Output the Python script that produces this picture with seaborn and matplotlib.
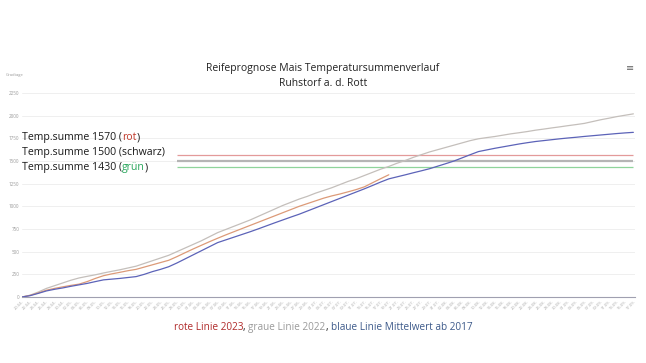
import pandas as pd
import matplotlib
matplotlib.use("Agg")
import matplotlib.pyplot as plt
import seaborn as sns

# Datumsachse (alle 2 Tage)
datum = pd.date_range("2023-04-20", periods=76, freq="2D").strftime("%d.%m.").tolist()

# Temperatursummen (Gradtage)
summe_2022 = [0, 20, 55, 95, 125, 155, 185, 210, 228, 245, 265, 283, 300, 320, 340, 370,
              400, 430, 460, 500, 540, 580, 620, 665, 710, 745, 780, 815, 850, 890, 930,
              970, 1010, 1045, 1080, 1110, 1145, 1175, 1205, 1240, 1275, 1305, 1340, 1375,
              1410, 1440, 1475, 1505, 1540, 1570, 1600, 1625, 1650, 1675, 1700, 1725, 1745,
              1758, 1770, 1785, 1800, 1812, 1825, 1840, 1852, 1865, 1877, 1890, 1902, 1915,
              1935, 1955, 1972, 1990, 2005, 2020]
summe_mittel = [0, 15, 40, 67, 85, 100, 118, 134, 150, 170, 189, 197, 205, 215, 225, 250,
                280, 305, 334, 375, 420, 465, 510, 555, 600, 630, 660, 690, 720, 752, 785,
                818, 850, 882, 913, 948, 983, 1018, 1053, 1088, 1123, 1158, 1193, 1230, 1268,
                1303, 1325, 1347, 1370, 1392, 1415, 1443, 1471, 1500, 1535, 1570, 1604, 1622,
                1640, 1656, 1672, 1688, 1702, 1715, 1725, 1735, 1745, 1754, 1762, 1771, 1779,
                1787, 1795, 1803, 1810, 1816]
summe_2023 = [0, 18, 45, 75, 95, 112, 128, 142, 170, 205, 235, 255, 272, 290, 305, 330,
              355, 380, 405, 445, 488, 530, 570, 610, 648, 685, 720, 755, 790, 825, 860,
              895, 930, 965, 1000, 1030, 1060, 1090, 1115, 1136, 1160, 1185, 1215, 1260,
              1305, 1348]

# Reifeschwellen
schwellen = [1570, 1500, 1430]
schwellen_farben = ["#e39a9a", "#b5b5b5", "#8fd49b"]
schwellen_breite = [0.9, 1.6, 0.9]
schwellen_start = "28.05."

df_2022 = pd.DataFrame({"x": range(len(summe_2022)), "y": summe_2022})
df_mittel = pd.DataFrame({"x": range(len(summe_mittel)), "y": summe_mittel})
df_2023 = pd.DataFrame({"x": range(len(summe_2023)), "y": summe_2023})

sns.set_style("white")
plt.rcParams["font.family"] = ["Open Sans", "DejaVu Sans"]

fig = plt.figure(figsize=(6.46, 3.63), dpi=100)
ax = fig.add_axes([22 / 646, 1 - 297 / 363, 613 / 646, 204 / 363])

# Schwellenlinien
x_start = datum.index(schwellen_start)
for wert, farbe, lw in zip(schwellen, schwellen_farben, schwellen_breite):
    ax.hlines(wert, x_start, len(datum) - 1, color=farbe, lw=lw, zorder=2)

sns.lineplot(data=df_2022, x="x", y="y", ax=ax, color="#c4bfbb", lw=0.9, zorder=3)
sns.lineplot(data=df_2023, x="x", y="y", ax=ax, color="#dc9a78", lw=0.9, zorder=4)
sns.lineplot(data=df_mittel, x="x", y="y", ax=ax, color="#5c63b8", lw=0.9, zorder=5)

ax.set_xlim(0, len(datum) - 0.8)
ax.set_ylim(0, 2250)
ax.set_yticks(range(0, 2251, 250))
ax.set_yticklabels([str(v) for v in range(0, 2251, 250)], fontsize=3.3, color="#9a9a9a")
ax.set_xticks(range(len(datum)))
ax.set_xticklabels(datum, rotation=45, ha="right", rotation_mode="anchor",
                   fontsize=3, color="#aaaaaa")
ax.tick_params(axis="both", length=0, pad=2)
ax.grid(axis="y", color="#ececec", lw=0.6)
ax.set_xlabel("")
ax.set_ylabel("")
for s in ["top", "right", "left"]:
    ax.spines[s].set_visible(False)
ax.spines["bottom"].set_color("#a0a0b0")
ax.spines["bottom"].set_linewidth(0.8)

fig.text(6 / 646, 1 - 75 / 363, "Gradtage", fontsize=3, color="#9a9a9a", va="center")

# Titel
fig.text(0.5, 1 - 68 / 363, "Reifeprognose Mais Temperatursummenverlauf",
         ha="center", va="center", fontsize=7.5, color="#222222")
fig.text(0.5, 1 - 84 / 363, "Ruhstorf a. d. Rott",
         ha="center", va="center", fontsize=7.5, color="#222222")
fig.text(630 / 646, 1 - 69 / 363, "≡", ha="center", va="center", fontsize=7, color="#666666")

renderer = fig.canvas.get_renderer()


def breite(s, groesse):
    # Breite inkl. Leerzeichen/Randabstand ueber Hilfszeichen messen
    t = fig.text(0, 0, s + "|", fontsize=groesse)
    h = fig.text(0, 0, "|", fontsize=groesse)
    w = t.get_window_extent(renderer).width - h.get_window_extent(renderer).width
    t.remove()
    h.remove()
    return w / fig.bbox.width


def kette(x, y, teile, groesse, ha="left"):
    # mehrfarbiger Text: Teile nebeneinander setzen
    voll = "".join(t for t, _ in teile)
    pos = x - breite(voll, groesse) / 2 if ha == "center" else x
    praefix = ""
    for text, farbe in teile:
        off = breite(praefix, groesse) if praefix else 0
        fig.text(pos + off, y, text, color=farbe, fontsize=groesse, va="baseline")
        praefix += text


schwarz = "#1a1a1a"
kette(22 / 646, 1 - 140 / 363, [("Temp.summe 1570 (", schwarz), ("rot", "#c0392b"), (")", schwarz)], 7.6)
kette(22 / 646, 1 - 155 / 363, [("Temp.summe 1500 (schwarz)", schwarz)], 7.6)
kette(22 / 646, 1 - 170 / 363, [("Temp.summe 1430 (", schwarz), ("grün", "#27a55a"), (")", schwarz)], 7.6)

kette(0.5, 1 - 330 / 363, [("rote Linie 2023", "#b02a2a"), (", ", schwarz),
                           ("graue Linie 2022", "#9a9a9a"), (", ", schwarz),
                           ("blaue Linie Mittelwert ab 2017", "#3d5a8a")], 7.2, ha="center")

fig.savefig("out.png", dpi=100)
